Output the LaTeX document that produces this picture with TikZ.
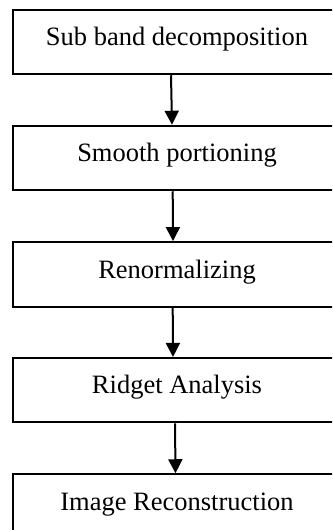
\documentclass[tikz,border=0pt]{standalone}
\usepackage{fontspec}
\setmainfont{Liberation Serif}
\usetikzlibrary{arrows.meta,calc}
\begin{document}
\begin{tikzpicture}[x=1pt,y=1pt,
  box/.style={draw=black,line width=2pt,rectangle,minimum width=329pt,minimum height=64.5pt,inner sep=0pt},
  lbl/.style={font=\fontsize{26.5}{30}\selectfont,inner sep=0pt,anchor=base},
  flow/.style={line width=2pt,-{Triangle[width=14pt,length=14pt]}}]
\useasboundingbox (0,0) rectangle (332,-530);
\clip (0,0) rectangle (332,-530);
\node[box] (b1) at (177,-42) {};
\node[box] (b2) at (177,-158) {};
\node[box] (b3) at (177,-274.3) {};
\node[box] (b4) at (177,-390.2) {};
\node[box] (b5) at (177,-506.5) {};
\node[lbl] (t1) at ($(b1.center)+(0,-3.7)$) {Sub band decomposition};
\node[lbl] (t2) at ($(b2.center)+(0,-3.7)$) {Smooth portioning};
\node[lbl] (t3) at ($(b3.center)+(0,-3.7)$) {Renormalizing};
\node[lbl] (t4) at ($(b4.center)+(0,-3.7)$) {Ridget Analysis};
\node[lbl] (t5) at ($(b5.center)+(0,-3.7)$) {Image Reconstruction};
\draw[flow] ([xshift=-6pt]b1.south) -- ([xshift=-5pt]b2.north);
\draw[flow] ([xshift=-4.3pt]b2.south) -- ([xshift=-4pt]b3.north);
\draw[flow] ([xshift=-4.3pt]b3.south) -- ([xshift=-4pt]b4.north);
\draw[flow] ([xshift=-2pt]b4.south) -- ([xshift=-1.5pt]b5.north);
\end{tikzpicture}
\end{document}
